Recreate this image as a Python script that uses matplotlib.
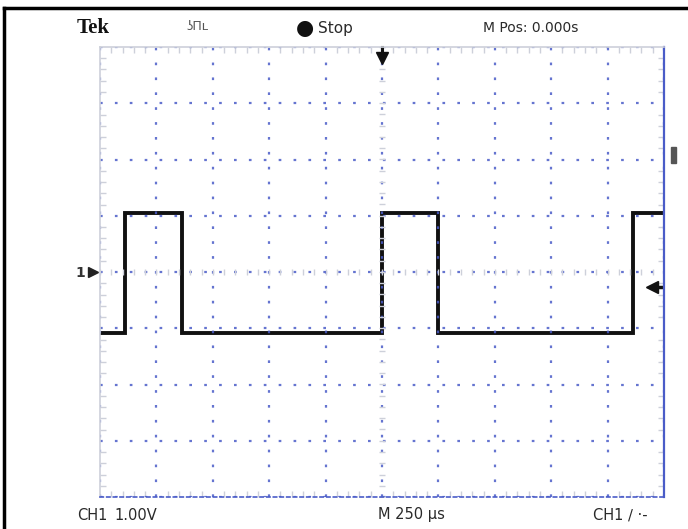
import numpy as np
import matplotlib
matplotlib.use("Agg")
import matplotlib.pyplot as plt
from matplotlib.ticker import MultipleLocator
from matplotlib.lines import Line2D
from matplotlib.patches import Rectangle

# ---- data (time in microseconds, level in volts) ----
edges_us = [-1250, -1139, -887, 0, 248, 1113, 1250]
levels_v = [-1.08, 1.05, -1.08, 1.05, -1.08, 1.05]
time_per_div_us = 250
volts_per_div = 1.0
n_xdiv = 10
n_ydiv = 8
trigger_level_v = -0.27
trigger_pos_us = 0
header_texts = ["Tek", "Stop", "M Pos: 0.000s"]
footer_texts = ["CH1", "1.00V", "M 250 \u00b5s", "CH1 \u2215 \u00b7-"]

W, H = 688, 529
fig = plt.figure(figsize=(W / 100, H / 100), dpi=100)
fig.patch.set_facecolor("white")

def fx(px):
    return px / W

def fy(py):
    return 1 - py / H

ax = fig.add_axes([fx(100), fy(497), fx(664) - fx(100), fy(47) - fy(497)])
xhalf = n_xdiv / 2 * time_per_div_us
yhalf = n_ydiv / 2 * volts_per_div
ax.set_xlim(-xhalf, xhalf)
ax.set_ylim(-yhalf, yhalf)

blue = "#4a5cc8"
gray = "#cdd0da"

ax.xaxis.set_major_locator(MultipleLocator(time_per_div_us))
ax.yaxis.set_major_locator(MultipleLocator(volts_per_div))
ax.xaxis.set_minor_locator(MultipleLocator(time_per_div_us / 5))
ax.yaxis.set_minor_locator(MultipleLocator(volts_per_div / 5))
ax.grid(True, which="major", color=blue, linestyle=(0, (1.2, 5.5)), linewidth=1.6, alpha=0.85)
ax.tick_params(which="both", direction="in", labelbottom=False, labelleft=False,
               top=True, right=True, colors=gray)
ax.tick_params(which="major", length=0)
ax.tick_params(which="minor", length=4, width=1)
for s in ax.spines.values():
    s.set_color(gray)
    s.set_linewidth(1.2)
ax.spines["right"].set_color(blue)
ax.spines["right"].set_linewidth(1.6)
ax.spines["bottom"].set_color(blue)
ax.spines["bottom"].set_linestyle((0, (2, 2)))

# center-line minor ticks
xm = np.arange(-xhalf, xhalf + 1, time_per_div_us / 5)
ym = np.arange(-yhalf, yhalf + 0.01, volts_per_div / 5)
ax.plot(xm, np.zeros_like(xm), ls="none", marker="|", ms=5, color=gray, mew=1)
ax.plot(np.zeros_like(ym), ym, ls="none", marker="_", ms=5, color=gray, mew=1)

# signal
ax.stairs(levels_v, edges_us, baseline=None, color="#111111", linewidth=2.8)

# markers
ax.plot([-xhalf - 30], [0], marker=">", ms=7, color="#222222", clip_on=False)
fig.text(fx(75), fy(273), "1", ha="left", va="center", fontsize=10, fontweight="bold",
         color="#333333")
ax.plot([trigger_pos_us], [yhalf - 0.2], marker="v", ms=8, color="#111111", clip_on=False)
ax.plot([trigger_pos_us, trigger_pos_us], [yhalf, yhalf - 0.15], color="#111111", lw=2.2, clip_on=False)
ax.plot([1195], [trigger_level_v], marker="<", ms=9, color="#111111", clip_on=False)
ax.plot([1195, 1235], [trigger_level_v, trigger_level_v], color="#111111", lw=2.5, clip_on=False)

# header texts
narrow = ["Liberation Sans Narrow", "DejaVu Sans"]
tc = "#2a2a2a"
fig.text(fx(77), fy(28), header_texts[0], ha="left", va="center", fontsize=15,
         fontweight="bold", family=["Liberation Serif", "DejaVu Serif"], color="#111111")
fig.text(fx(186), fy(27), "\u0296\u03a0\u029f", ha="left", va="center", fontsize=9,
         family="DejaVu Sans", color="#555555")
fig.text(fx(296), fy(28), "\u25cf", ha="left", va="center", fontsize=15,
         family="DejaVu Sans", color="#111111")
fig.text(fx(318), fy(28), header_texts[1], ha="left", va="center", fontsize=11,
         family=narrow, color=tc)
fig.text(fx(483), fy(28), header_texts[2], ha="left", va="center", fontsize=10,
         family=narrow, color=tc)

# footer texts
fig.text(fx(77), fy(515), footer_texts[0], ha="left", va="center", fontsize=10.5, family=narrow, color=tc)
fig.text(fx(114), fy(515), footer_texts[1], ha="left", va="center", fontsize=10.5, family=narrow, color=tc)
fig.text(fx(378), fy(515), footer_texts[2], ha="left", va="center", fontsize=10.5, family=narrow, color=tc)
fig.text(fx(593), fy(515), footer_texts[3], ha="left", va="center", fontsize=10.5,
         family=narrow, color=tc)

# outer frame (left and top)
fig.add_artist(Line2D([fx(4), fx(4)], [0, fy(8)], color="black", lw=2.5, transform=fig.transFigure))
fig.add_artist(Line2D([fx(4), 1], [fy(8), fy(8)], color="black", lw=2.5, transform=fig.transFigure))
fig.add_artist(Rectangle((fx(671), fy(163)), fx(5), fy(147) - fy(163), color="#555555",
                         transform=fig.transFigure))

fig.savefig("out.png", dpi=100)
